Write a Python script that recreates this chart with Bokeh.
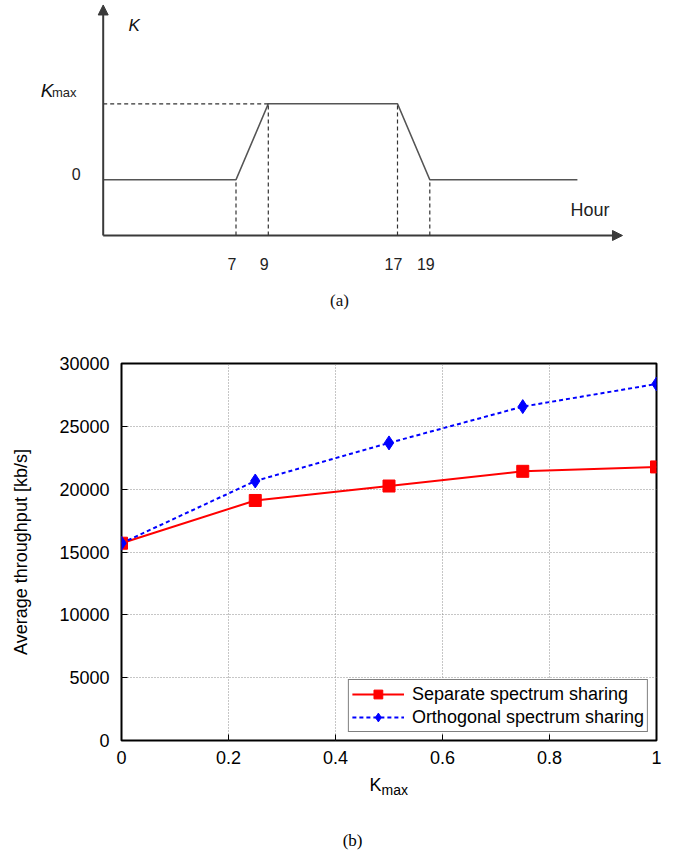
from bokeh.plotting import figure
from bokeh.models import (Range1d, Label, Arrow, NormalHead, Legend, LegendItem,
                          FixedTicker)
from bokeh.layouts import column
from bokeh.embed import file_html
from bokeh.resources import INLINE
from bokeh.core.properties import value

# ---------------- data (a): schematic of kappa against hour ----------------
ramp_hours = [7, 9, 17, 19]          # hours where kappa changes
ramp_kappa = [0, 1, 1, 0]            # kappa level (in units of Kmax) at those hours
hour_tick_labels = ["7", "9", "17", "19"]

# ---------------- data (b): average throughput ----------------
kmax_values = [0, 0.25, 0.5, 0.75, 1.0]
separate_tp = [15700, 19100, 20250, 21420, 21770]
orthogonal_tp = [15700, 20650, 23680, 26570, 28370]
series_names = ["Separate spectrum sharing", "Orthogonal spectrum sharing"]
x_ticks = [0, 0.2, 0.4, 0.6, 0.8, 1]
x_tick_labels = ["0", "0.2", "0.4", "0.6", "0.8", "1"]
y_ticks = [0, 5000, 10000, 15000, 20000, 25000, 30000]
y_tick_labels = ["0", "5000", "10000", "15000", "20000", "25000", "30000"]

SANS = "Liberation Sans"
SERIF = "Liberation Serif"
W = 670

# ======================= panel (a) =======================
H1 = 310
p1 = figure(width=W, height=H1, x_range=Range1d(-7.582, 33.904),
            y_range=Range1d(-1.720, 2.359), output_backend="svg",
            toolbar_location=None, x_axis_location=None, y_axis_location=None,
            min_border=0, outline_line_color=None)
p1.frame_align = False
p1.grid.visible = False

ax_h = -1.223      # hour position of the drawn vertical axis
ax_k = -0.733      # kappa position of the drawn horizontal axis
end_h = 28.14      # end of the drawn kappa curve
axis_col = "#3a3a3a"

p1.line([ax_h] + ramp_hours + [end_h], [0] + ramp_kappa + [0],
        line_color="#555555", line_width=1.6)

p1.segment(x0=ramp_hours, y0=[ax_k] * len(ramp_hours), x1=ramp_hours, y1=ramp_kappa,
           line_color="#333333", line_width=1.2, line_dash="4 3")
p1.segment(x0=[ax_h], y0=[1], x1=[ramp_hours[1]], y1=[1],
           line_color="#333333", line_width=1.2, line_dash="4 3")

p1.add_layout(Arrow(end=NormalHead(size=10, fill_color=axis_col, line_color=axis_col),
                    x_start=ax_h, y_start=ax_k, x_end=ax_h, y_end=2.30,
                    line_color=axis_col, line_width=2))
p1.add_layout(Arrow(end=NormalHead(size=10, fill_color=axis_col, line_color=axis_col),
                    x_start=ax_h, y_start=ax_k, x_end=30.93, y_end=ax_k,
                    line_color=axis_col, line_width=2))

p1.text(x=ramp_hours, y=[-1.114] * len(ramp_hours), text=hour_tick_labels,
        text_font=value(SANS), text_font_size="16px", text_color="#222222",
        text_align="center", text_baseline="middle", x_offset=-4)

p1.add_layout(Label(x=-2.889, y=0.07, text="0", text_font=SANS, text_font_size="16px",
                    text_color="#222222", text_align="center", text_baseline="middle"))
p1.add_layout(Label(x=-4.30, y=1.17, text="K", text_font=SANS, text_font_style="italic",
                    text_font_size="19px", text_color="#111111", text_align="right",
                    text_baseline="alphabetic"))
p1.add_layout(Label(x=-4.40, y=1.15, text="max", text_font=SANS, text_font_size="13px",
                    text_color="#222222", text_align="left", text_baseline="alphabetic"))
p1.add_layout(Label(x=0.344, y=2.03, text="K", text_font=SANS, text_font_style="italic",
                    text_font_size="17px", text_color="#111111", text_align="left",
                    text_baseline="alphabetic"))
p1.add_layout(Label(x=28.92, y=-0.397, text="Hour", text_font=SANS, text_font_size="18px",
                    text_color="#222222", text_align="center", text_baseline="middle"))
p1.add_layout(Label(x=13.41, y=-1.588, text="(a)", text_font=SERIF, text_font_size="17px",
                    text_color="#111111", text_align="center", text_baseline="middle"))

# ======================= panel (b) =======================
H2 = 462
p2 = figure(width=W, height=H2, x_range=Range1d(0, 1), y_range=Range1d(0, 30000),
            output_backend="svg", toolbar_location=None,
            min_border_left=121, min_border_right=14, min_border_top=53,
            min_border_bottom=32)
p2.frame_align = False
p2.outline_line_color = "black"
p2.outline_line_width = 2

p2.xaxis.ticker = FixedTicker(ticks=x_ticks)
p2.yaxis.ticker = FixedTicker(ticks=y_ticks)
p2.xaxis.major_label_overrides = dict(zip(x_ticks, x_tick_labels))
p2.yaxis.major_label_overrides = dict(zip(y_ticks, y_tick_labels))
for ax in (p2.xaxis, p2.yaxis):
    ax.axis_line_color = None
    ax.major_tick_in = 6
    ax.major_tick_out = 0
    ax.major_tick_line_color = "black"
    ax.minor_tick_line_color = None
    ax.major_label_text_font = SANS
    ax.major_label_text_font_size = "18px"
    ax.major_label_text_color = "black"
p2.xaxis.major_label_standoff = 10
p2.yaxis.major_label_standoff = 12
p2.yaxis.axis_label = "Average throughput [kb/s]"
p2.yaxis.axis_label_text_font = SANS
p2.yaxis.axis_label_text_font_size = "18px"
p2.yaxis.axis_label_text_font_style = "normal"
p2.yaxis.axis_label_text_color = "black"
p2.yaxis.axis_label_standoff = 25

p2.grid.grid_line_color = "#8c8c8c"
p2.grid.grid_line_dash = "1 2"
p2.grid.grid_line_width = 1

r1 = p2.line(kmax_values, separate_tp, line_color="#ff0000", line_width=2)
s1 = p2.scatter(kmax_values, separate_tp, marker="square", size=12,
                fill_color="#ff0000", line_color="#ff0000")
r2 = p2.line(kmax_values, orthogonal_tp, line_color="#0000ff", line_width=2,
             line_dash="4 3")
s2 = p2.scatter(kmax_values, orthogonal_tp, marker="diamond", size=14,
                fill_color="#0000ff", line_color="#0000ff")

legend = Legend(items=[LegendItem(label=series_names[0], renderers=[r1, s1]),
                       LegendItem(label=series_names[1], renderers=[r2, s2])],
                location="bottom_right", margin=8, padding=3, spacing=1,
                border_line_color="black", border_line_width=1.5,
                background_fill_color="white", background_fill_alpha=1,
                label_text_font=SANS, label_text_font_size="18px",
                label_text_color="black", glyph_width=52, glyph_height=22,
                label_height=22, label_standoff=8)
p2.add_layout(legend)

# ======================= captions under panel (b) =======================
H3 = 80
p3 = figure(width=W, height=H3, x_range=p2.x_range, y_range=Range1d(H3, 0),
            output_backend="svg", toolbar_location=None,
            x_axis_location=None, y_axis_location=None,
            min_border_left=121, min_border_right=14, min_border_top=0,
            min_border_bottom=0, outline_line_color=None)
p3.frame_align = False
p3.grid.visible = False
p3.add_layout(Label(x=0.486, y=12, text="K", text_font=SANS,
                    text_font_size="18px", text_color="black", text_align="right",
                    text_baseline="alphabetic"))
p3.add_layout(Label(x=0.486, y=17, text="max", text_font=SANS,
                    text_font_size="14px", text_color="black", text_align="left",
                    text_baseline="alphabetic"))
p3.add_layout(Label(x=0.432, y=68, text="(b)", text_font=SERIF,
                    text_font_size="17px", text_color="black", text_align="center",
                    text_baseline="middle"))

layout = column(p1, p2, p3, spacing=0)
open("out.html", "w").write(file_html(layout, INLINE))
